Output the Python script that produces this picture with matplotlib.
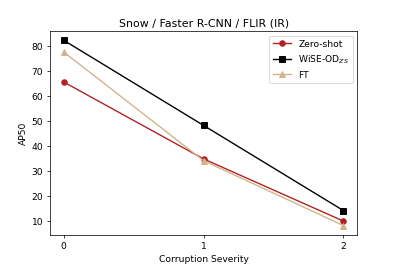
import matplotlib
matplotlib.use("Agg")
import matplotlib.pyplot as plt

severity = [0, 1, 2]
zero_shot = [65.5, 34.7, 9.8]
wise_od = [82.2, 48.1, 14.0]
ft = [77.5, 34.0, 8.0]

fig, ax = plt.subplots(figsize=(6, 4), dpi=66.2)
ax.plot(severity, zero_shot, marker='o', color='firebrick', label='Zero-shot')
ax.plot(severity, wise_od, marker='s', color='black', label='WiSE-OD$_{ZS}$')
ax.plot(severity, ft, marker='^', color='tan', label='FT')
ax.set_xticks(severity)
ax.set_xlabel('Corruption Severity')
ax.set_ylabel('AP50')
ax.set_title('Snow / Faster R-CNN / FLIR (IR)')
ax.legend(loc='upper right')
fig.savefig('out.png', dpi=66.2)
